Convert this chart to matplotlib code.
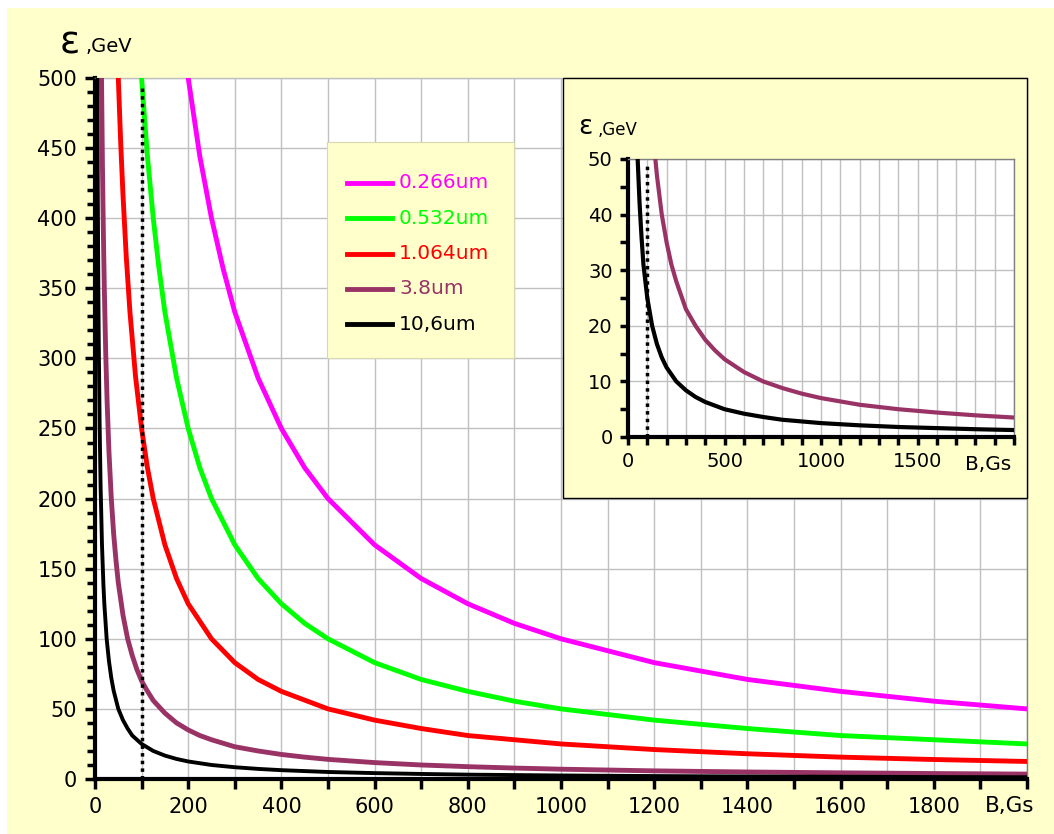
import matplotlib
matplotlib.use("Agg")
import matplotlib.pyplot as plt
from matplotlib.patches import Rectangle
from matplotlib.ticker import MultipleLocator, FuncFormatter

plt.rcParams['font.family'] = ['DejaVu Sans']

# ---- data (B in Gs, energy in GeV) ----
labels = ["0.266um", "0.532um", "1.064um", "3.8um", "10,6um"]
colors = ["#FF00FF", "#00FF00", "#FF0000", "#993366", "#000000"]

B_0266 = [200, 225, 250, 275, 300, 350, 400, 450, 500, 600, 700, 800, 900, 1000, 1200, 1400, 1600, 1800, 2000]
E_0266 = [500, 444, 400, 364, 333, 286, 250, 222, 200, 167, 143, 125, 111, 100, 83, 71, 62.5, 55.5, 50]

B_0532 = [100, 112, 125, 137, 150, 175, 200, 225, 250, 300, 350, 400, 450, 500, 600, 700, 800, 900, 1000, 1200, 1400, 1600, 1800, 2000]
E_0532 = [500, 446, 400, 365, 333, 286, 250, 222, 200, 167, 143, 125, 111, 100, 83, 71, 62.5, 55.5, 50, 42, 36, 31, 28, 25]

B_1064 = [50, 55, 60, 67, 75, 87, 100, 112, 125, 150, 175, 200, 250, 300, 350, 400, 500, 600, 700, 800, 900, 1000, 1200, 1400, 1600, 1800, 2000]
E_1064 = [500, 455, 417, 373, 333, 287, 250, 223, 200, 167, 143, 125, 100, 83, 71, 62.5, 50, 42, 36, 31, 28, 25, 21, 18, 15.6, 13.9, 12.5]

B_38 = [14, 16, 18, 20, 23, 26, 30, 35, 40, 45, 50, 60, 70, 80, 90, 100, 110, 125, 150, 175, 200, 225, 250, 300, 350, 400, 450, 500, 600, 700, 800, 900, 1000, 1200, 1400, 1600, 1800, 2000]
E_38 = [500, 437, 389, 350, 304, 269, 233, 200, 175, 156, 140, 117, 100, 88, 78, 70, 64, 56, 47, 40, 35, 31, 28, 23, 20, 17.5, 15.6, 14, 11.7, 10, 8.8, 7.8, 7.0, 5.8, 5.0, 4.4, 3.9, 3.5]

B_106 = [5, 6, 7, 8, 10, 12, 15, 18, 20, 25, 30, 35, 40, 50, 60, 70, 80, 90, 100, 110, 125, 150, 175, 200, 250, 300, 350, 400, 500, 600, 700, 800, 1000, 1200, 1400, 1600, 1800, 2000]
E_106 = [502, 418, 358, 314, 251, 209, 167, 139, 125, 100, 84, 72, 63, 50, 42, 36, 31, 28, 25, 23, 20, 16.7, 14.3, 12.5, 10, 8.4, 7.2, 6.3, 5.0, 4.2, 3.6, 3.1, 2.5, 2.1, 1.8, 1.6, 1.4, 1.25]

series_B = [B_0266, B_0532, B_1064, B_38, B_106]
series_E = [E_0266, E_0532, E_1064, E_38, E_106]

B_marker = 100  # dotted reference line

W, H = 1054, 834
fig = plt.figure(figsize=(W / 100, H / 100), dpi=100, facecolor="white")
yellow = "#FFFFCC"
fig.patches.append(Rectangle((7 / W, 0), 1 - 7 / W, 1 - 8 / H, transform=fig.transFigure,
                             facecolor=yellow, edgecolor="none", zorder=-10))

def fx(px):
    return px / W

def fy(py):
    return 1 - py / H

# ---------------- main axes ----------------
ax = fig.add_axes([fx(95), fy(779), fx(1027 - 95), (779 - 78) / H], zorder=1)
ax.set_facecolor("white")
ax.set_xlim(0, 2000)
ax.set_ylim(0, 500)
ax.xaxis.set_major_locator(MultipleLocator(100))
ax.xaxis.set_major_formatter(FuncFormatter(lambda v, p: "%d" % v if int(round(v)) % 200 == 0 and v < 1850 else ""))
ax.yaxis.set_major_locator(MultipleLocator(50))
ax.yaxis.set_minor_locator(MultipleLocator(10))
ax.grid(True, which="major", color="#C0C0C0", linewidth=1.0, zorder=0)
ax.tick_params(axis="both", which="major", direction="out", length=7, width=2.5,
               labelsize=15, color="black", pad=6)
ax.tick_params(axis="y", which="minor", direction="out", length=6, width=2.5, color="black")
for s in ["left", "bottom"]:
    ax.spines[s].set_linewidth(3)
    ax.spines[s].set_color("black")
ax.spines["right"].set_color("#808080")
ax.spines["right"].set_linewidth(1)
ax.spines["top"].set_color("#C0C0C0")
ax.spines["top"].set_linewidth(1)

widths = [3.5, 3.5, 3.5, 3.5, 2.8]
for Bs, Es, c, lw in zip(series_B, series_E, colors, widths):
    ax.plot(Bs, Es, color=c, linewidth=lw, zorder=3, clip_on=True)
ax.plot([B_marker, B_marker], [0, 495], color="black", linestyle=(0, (1, 1.2)), linewidth=2.5, zorder=4)

fig.text(fx(60), fy(43), "ε", fontsize=27, va="center", ha="left")
fig.text(fx(86), fy(47), ",GeV", fontsize=14, va="center", ha="left")
fig.text(fx(1010), fy(806), "B,Gs", fontsize=15.5, va="center", ha="center")

# ---------------- legend ----------------
fig.patches.append(Rectangle((fx(327), fy(358)), fx(514 - 327), (358 - 142) / H,
                             transform=fig.transFigure, facecolor=yellow,
                             edgecolor="#D8D8B0", linewidth=0.8, zorder=5))
for i, (lab, c) in enumerate(zip(labels, colors)):
    yy = fy(183 + i * 35.3)
    fig.lines.append(plt.Line2D([fx(347), fx(392)], [yy, yy], transform=fig.transFigure,
                                color=c, linewidth=3.5, zorder=6))
    fig.text(fx(399), yy, lab, color=c, fontsize=14.5, va="center", ha="left", zorder=6)

# ---------------- inset ----------------
fig.patches.append(Rectangle((fx(563), fy(498)), fx(1027 - 563), (498 - 78) / H,
                             transform=fig.transFigure, facecolor=yellow,
                             edgecolor="black", linewidth=1.0, zorder=5))
ai = fig.add_axes([fx(628), fy(437), fx(1014 - 628), (437 - 159) / H], zorder=6)
ai.set_facecolor("white")
ai.set_xlim(0, 2000)
ai.set_ylim(0, 50)
ai.xaxis.set_major_locator(MultipleLocator(100))
ai.xaxis.set_major_formatter(FuncFormatter(lambda v, p: "%d" % v if int(round(v)) % 500 == 0 and v < 1900 else ""))
ai.yaxis.set_major_locator(MultipleLocator(10))
ai.yaxis.set_minor_locator(MultipleLocator(5))
ai.grid(True, which="major", color="#C0C0C0", linewidth=1.0, zorder=0)
ai.tick_params(axis="both", which="major", direction="out", length=6, width=2.5,
               labelsize=14, color="black", pad=5)
ai.tick_params(axis="y", which="minor", direction="out", length=6, width=2.5, color="black")
for s in ["left", "bottom"]:
    ai.spines[s].set_linewidth(3)
    ai.spines[s].set_color("black")
ai.spines["right"].set_color("#808080")
ai.spines["right"].set_linewidth(1)
ai.spines["top"].set_color("#808080")
ai.spines["top"].set_linewidth(1)
for Bs, Es, c in zip(series_B[3:], series_E[3:], colors[3:]):
    ai.plot(Bs, Es, color=c, linewidth=3, zorder=3)
ai.plot([B_marker, B_marker], [0, 49.5], color="black", linestyle=(0, (1, 1.2)), linewidth=2.5, zorder=4)

fig.text(fx(578), fy(127), "ε", fontsize=19, va="center", ha="left", zorder=7)
fig.text(fx(598), fy(130), ",GeV", fontsize=12, va="center", ha="left", zorder=7)
fig.text(fx(988), fy(465), "B,Gs", fontsize=14.5, va="center", ha="center", zorder=7)

fig.savefig("out.png", dpi=100, facecolor="white")
